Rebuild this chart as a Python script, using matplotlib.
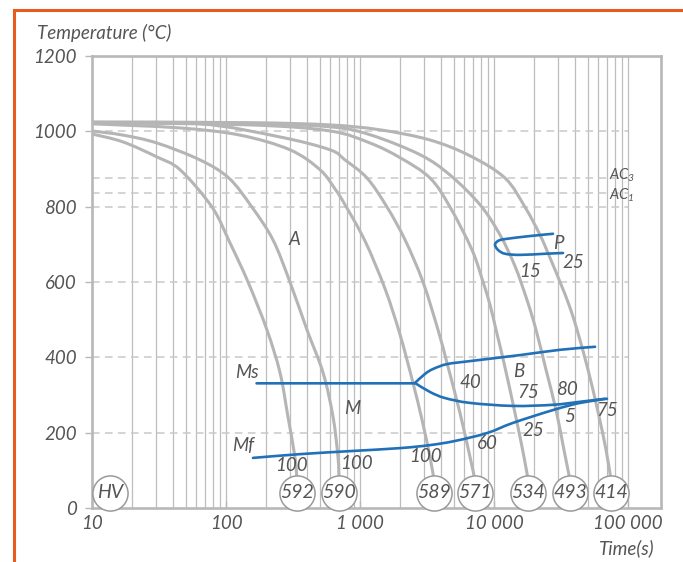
import numpy as np
import matplotlib.pyplot as plt
from matplotlib.patches import Rectangle, PathPatch
from matplotlib.path import Path
from matplotlib.ticker import NullLocator

plt.rcParams['font.family'] = ['Lato', 'DejaVu Sans']
plt.rcParams['font.style'] = 'italic'
plt.rcParams['mathtext.default'] = 'regular'

TXT = '#555555'
LINE_GRAY = '#b5b5b5'
GRID_GRAY = '#bdbdbd'
BLUE = '#2171b8'

# cooling curves: time (s) and temperature (°C), ending at the hardness circle
hardness = ['592', '590', '589', '571', '534', '493', '414']
t_592 = [10, 17, 30.5, 45.4, 78.6, 107, 146, 202, 253, 290, 327, 339]
T_592 = [993, 972, 932, 898, 799, 704, 600, 473, 359, 242, 135, 74]
t_590 = [10, 17, 30.5, 64, 105, 156, 224, 300, 402, 530, 629, 685, 697]
T_590 = [1001, 990, 969, 924, 876, 799, 712, 600, 473, 359, 242, 135, 74]
t_589 = [10, 45.4, 127, 300, 503, 651, 773, 1089, 1537, 1990, 2486, 2902, 3331, 3567]
T_589 = [1020, 1009, 990, 951, 898, 847, 805, 709, 582, 460, 332, 234, 135, 74]
t_571 = [10, 64, 253, 597, 773, 1128, 1590, 2167, 2951, 3819, 4459, 5573, 6622, 7215]
T_571 = [1023, 1020, 985, 951, 924, 876, 799, 712, 600, 473, 385, 252, 135, 74]
t_534 = [10, 151, 597, 1187, 1990, 3331, 4694, 6855, 8280, 9340, 10350, 11870, 14340, 16750, 17950]
T_534 = [1023, 1017, 1001, 969, 930, 876, 799, 685, 600, 539, 473, 385, 252, 135, 74]
t_493 = [10, 151, 597, 1187, 2804, 4694, 7864, 11090, 14340, 17630, 20580, 24430, 29020, 33270, 36900]
T_493 = [1023, 1020, 1012, 991, 938, 884, 805, 725, 642, 552, 473, 367, 260, 154, 74]
t_414 = [10, 151, 597, 1410, 3331, 6622, 12080, 17020, 22030, 26180, 31090, 36280, 41640, 50290, 59700, 68550, 74640]
T_414 = [1025, 1023, 1017, 1004, 977, 935, 876, 799, 725, 664, 600, 539, 473, 367, 255, 154, 74]
curves = [(t_592, T_592), (t_590, T_590), (t_589, T_589), (t_571, T_571),
          (t_534, T_534), (t_493, T_493), (t_414, T_414)]
hv_time = 13.6
circle_temp = 40

# transformation lines
ms_t = [169, 2570]
ms_T = [331, 331]
upper_t = [2570, 3055, 3507, 4459, 6622, 15630, 31090, 56750]
upper_T = [332, 356, 369, 382, 390, 406, 420, 428]
lower_t = [2570, 3330, 4300, 6622, 13860, 27540, 43850, 67300]
lower_T = [332, 308, 292, 279, 271, 274, 282, 290]
mf_t = [159, 357, 841, 1990, 3331, 5117, 8870, 13860, 27540, 43850, 69660]
mf_T = [133, 143, 151, 159, 167, 178, 199, 226, 260, 279, 290]
p_t = [27540, 18560, 12080, 10720, 10170, 10720, 12080, 15630, 24030, 32730]
p_T = [728, 722, 714, 709, 699, 685, 675, 672, 675, 677]

ac3, ac1 = 877, 836

labels = [('A', 327, 712), ('P', 30060, 701), ('15', 18560, 628), ('25', 38900, 651),
          ('Ms', 143, 359), ('M', 867, 263), ('Mf', 135, 165), ('B', 15170, 362),
          ('40', 6620, 333), ('75', 18030, 306), ('80', 34830, 315), ('5', 36470, 243),
          ('75', 70170, 260), ('25', 19630, 205), ('60', 8910, 170),
          ('100', 309, 114), ('100', 944, 119), ('100', 3055, 136)]


def smooth_path(t, T):
    # Catmull-Rom through the read points, done in log(t) so it follows the log axis
    u = np.log10(t)
    v = np.asarray(T, float)
    P = np.column_stack([u, v])
    P = np.vstack([P[0], P, P[-1]])
    verts = [P[1]]
    codes = [Path.MOVETO]
    for i in range(1, len(P) - 2):
        c1 = P[i] + (P[i + 1] - P[i - 1]) / 6
        c2 = P[i + 1] - (P[i + 2] - P[i]) / 6
        verts += [c1, c2, P[i + 1]]
        codes += [Path.CURVE4] * 3
    verts = np.array(verts)
    verts[:, 0] = 10 ** verts[:, 0]
    return Path(verts, codes)


fig = plt.figure(figsize=(6.83, 5.62), dpi=100)
ax = fig.add_axes([92 / 683, 1 - 508 / 562, (661 - 92) / 683, (508 - 56) / 562])
ax.set_xscale('log')
ax.set_xlim(10, 10 ** 5.246)
ax.set_ylim(0, 1200)

grid_x = [m * 10 ** e for e in range(1, 5) for m in range(1, 10)] + [1e5]
ax.vlines(grid_x, 0, 1200, color=GRID_GRAY, lw=0.9, zorder=0)
ax.hlines([200, 400, 600, 800, 1000, ac1, ac3], 10, 1e5, color='#c9c9c9',
          lw=1.1, linestyles=(0, (5, 3.5)), zorder=0)

for t, T in curves:
    ax.add_patch(PathPatch(smooth_path(t, T), fill=False, edgecolor=LINE_GRAY,
                           lw=2.2, capstyle='round', zorder=2))

for t, T in [(ms_t, ms_T), (upper_t, upper_T), (lower_t, lower_T), (mf_t, mf_T), (p_t, p_T)]:
    ax.add_patch(PathPatch(smooth_path(t, T), fill=False, edgecolor=BLUE,
                           lw=1.9, capstyle='round', zorder=3))

circ_t = [hv_time] + [c[0][-1] for c in curves]
circ_lab = ['HV'] + hardness
ax.scatter(circ_t, [circle_temp] * len(circ_t), s=640, facecolor='white',
           edgecolor='#9a9a9a', lw=1.1, zorder=5, clip_on=False)
for t, lab in zip(circ_t, circ_lab):
    ax.text(t, circle_temp, lab, ha='center', va='center', fontsize=14,
            color=TXT, zorder=6)

for lab, t, T in labels:
    ax.text(t, T, lab, ha='center', va='center', fontsize=13.5, color=TXT, zorder=4)

ax.text(90200, ac3 + 5, 'AC$_3$', ha='center', va='center', fontsize=10.5, color=TXT)
ax.text(90200, ac1 - 6, 'AC$_1$', ha='center', va='center', fontsize=10.5, color=TXT)

for s in ax.spines.values():
    s.set_color('#b8b8b8')
    s.set_linewidth(1.9)

ax.set_xticks([10, 100, 1000, 10000, 100000])
ax.set_xticklabels(['10', '100', '1 000', '10 000', '100 000'])
ax.xaxis.set_minor_locator(NullLocator())
ax.set_yticks([0, 200, 400, 600, 800, 1000, 1200])
ax.tick_params(axis='x', direction='in', length=5, width=1, colors='#b8b8b8',
               labelcolor=TXT, labelsize=13.5, pad=5)
ax.tick_params(axis='y', direction='out', length=5, width=1, colors='#b8b8b8',
               labelcolor=TXT, labelsize=13.5, pad=6)

fig.text(37 / 683, 1 - 33 / 562, 'Temperature (°C)', ha='left', va='center',
         fontsize=13.5, color=TXT)
fig.text(655 / 683, 1 - 548 / 562, 'Time(s)', ha='right', va='center',
         fontsize=13.5, color=TXT)

fig.patches.append(Rectangle((14 / 683, -0.1), 1.2, 1.1 - 10 / 562, transform=fig.transFigure,
                             fill=False, edgecolor='#e85a1e', lw=2.2))

fig.savefig('out.png', dpi=100)
